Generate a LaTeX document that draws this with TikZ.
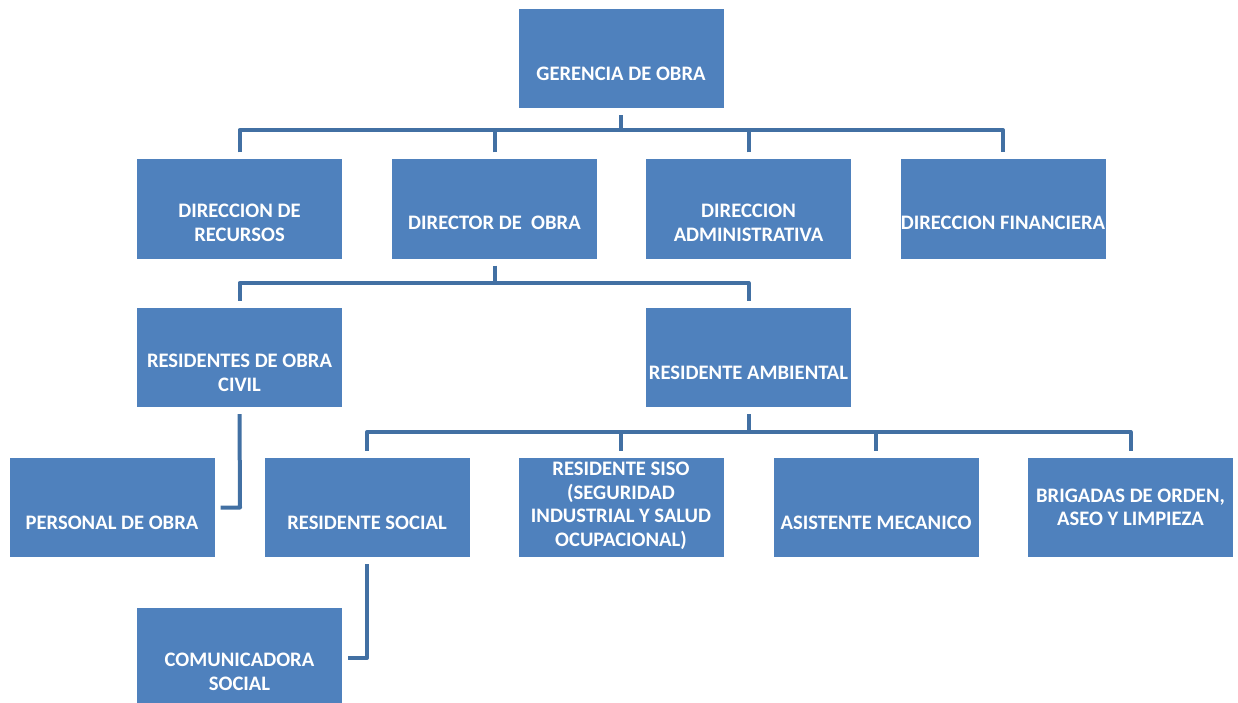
\documentclass[tikz,border=0pt]{standalone}
\usepackage{fontspec}
\setmainfont{Carlito}
\usetikzlibrary{calc}
\definecolor{boxblue}{RGB}{79,129,189}
\definecolor{linkblue}{RGB}{66,112,163}
\tikzset{
  box/.style={rectangle, fill=boxblue, draw=none, minimum width=205pt, minimum height=99pt, inner sep=0pt},
  txt/.style={text=white, font=\bfseries\fontsize{20.6}{23.6}\selectfont, align=center, inner sep=0pt},
  conn/.style={draw=linkblue, line width=4pt, line join=round}
}
\begin{document}
\begin{tikzpicture}[x=1pt,y=-1pt]
\useasboundingbox (0,0) rectangle (1238,703);
% boxes
\node[box] (g) at (621,58.5) {};
\node[box] (dr) at (239.5,209) {};
\node[box] (do) at (494.5,209) {};
\node[box] (da) at (748.5,209) {};
\node[box] (df) at (1003,209) {};
\node[box] (rc) at (239.5,357.5) {};
\node[box] (ra) at (748.5,357.5) {};
\node[box] (po) at (112,507.5) {};
\node[box] (rs) at (367,507.5) {};
\node[box] (ss) at (621,507.5) {};
\node[box] (am) at (876,507.5) {};
\node[box] (bo) at (1130.5,507.5) {};
\node[box] (cs) at (239.5,657.5) {};
% texts
\node[txt] (gT) at (621,73.5) {GERENCIA DE OBRA};
\node[txt] (drT) at (239.5,223) {DIRECCION DE\\RECURSOS};
\node[txt] (doT) at (494.5,222.5) {DIRECTOR DE \ OBRA};
\node[txt] (daT) at (748.5,223) {DIRECCION\\ADMINISTRATIVA};
\node[txt] (dfT) at (1003,222.5) {DIRECCION FINANCIERA};
\node[txt] (rcT) at (239.5,373) {RESIDENTES DE OBRA\\CIVIL};
\node[txt] (raT) at (748.5,372.5) {RESIDENTE AMBIENTAL};
\node[txt] (poT) at (112,522.5) {PERSONAL DE OBRA};
\node[txt] (rsT) at (367,522.5) {RESIDENTE SOCIAL};
\node[txt] (ssT) at (621,506) {RESIDENTE SISO\\(SEGURIDAD\\INDUSTRIAL Y SALUD\\OCUPACIONAL)};
\node[txt] (amT) at (876,522.5) {ASISTENTE MECANICO};
\node[txt] (boT) at (1130.5,507.5) {BRIGADAS DE ORDEN,\\ASEO Y LIMPIEZA};
\node[txt] (csT) at (239.5,672) {COMUNICADORA\\SOCIAL};
% buses
\coordinate (b1) at (621,130);
\coordinate (b2) at (494.5,283);
\coordinate (b3) at (748.5,432);
% level 1
\draw[conn] ($(g.south)+(0,7)$) -- (b1);
\draw[conn] ($(dr.north)+(0,-7)$) -- (dr.north |- b1) -- (df.north |- b1) -- ($(df.north)+(0,-7)$);
\draw[conn] ($(do.north)+(0,-7)$) -- (do.north |- b1);
\draw[conn] ($(da.north)+(0,-7)$) -- (da.north |- b1);
% level 2
\draw[conn] ($(do.south)+(0,7)$) -- (b2);
\draw[conn] ($(rc.north)+(0,-7)$) -- (rc.north |- b2) -- (ra.north |- b2) -- ($(ra.north)+(0,-7)$);
% level 3
\draw[conn] ($(ra.south)+(0,7)$) -- (b3);
\draw[conn] ($(rs.north)+(0,-7)$) -- (rs.north |- b3) -- (bo.north |- b3) -- ($(bo.north)+(0,-7)$);
\draw[conn] ($(ss.north)+(0,-7)$) -- (ss.north |- b3);
\draw[conn] ($(am.north)+(0,-7)$) -- (am.north |- b3);
% side links
\coordinate (c1) at (240,507.5);
\draw[conn] ($(rc.south)+(0,7)$) -- (c1) -- ($(po.east |- c1)+(6,0)$);
\coordinate (c2) at (367,658);
\draw[conn] ($(rs.south)+(0,7)$) -- (c2) -- ($(cs.east |- c2)+(6,0)$);
\end{tikzpicture}
\end{document}
